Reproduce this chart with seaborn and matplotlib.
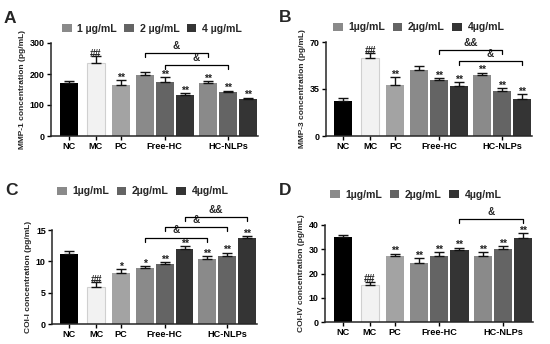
import numpy as np
import pandas as pd
import matplotlib
matplotlib.use("Agg")
import matplotlib.pyplot as plt
from matplotlib.patches import Patch
import seaborn as sns

# ---------------- data ----------------
bars = ["NC", "MC", "PC", "Free-1", "Free-2", "Free-4", "HC-1", "HC-2", "HC-4"]
tick_labels = ["NC", "MC", "PC", "Free-HC", "HC-NLPs"]

mmp1_mean = [171, 236, 165, 197, 174, 131, 170, 141, 120]
mmp1_err = [6, 22, 15, 8, 15, 7, 6, 5, 4]
mmp1_sig = ["", "##", "**", "", "**", "**", "**", "**", "**"]
mmp1_brackets = [(3, 6, 269, "&"), (4, 7, 228, "&")]

mmp3_mean = [26.2, 57.8, 38.1, 49.3, 41.6, 37.1, 45.3, 33.6, 27.7]
mmp3_err = [2.2, 3.7, 5.5, 2.5, 1.7, 2.8, 1.8, 2.0, 3.4]
mmp3_sig = ["", "##", "**", "", "**", "**", "**", "**", "**"]
mmp3_brackets = [(4, 7, 63.8, "&&"), (5, 8, 56.0, "&")]

coi1_mean = [11.1, 5.9, 8.2, 9.0, 9.6, 11.9, 10.3, 10.8, 13.8]
coi1_err = [0.6, 0.8, 0.5, 0.2, 0.3, 0.5, 0.5, 0.6, 0.2]
coi1_sig = ["", "##", "*", "*", "**", "**", "**", "**", "**"]
coi1_brackets = [(3, 6, 13.8, "&"), (4, 7, 15.5, "&"), (5, 8, 17.1, "&&")]

coi4_mean = [35.0, 15.1, 27.3, 24.5, 27.1, 29.5, 27.4, 30.3, 34.6]
coi4_err = [1.0, 1.4, 0.9, 1.8, 1.8, 1.1, 1.4, 1.1, 2.1]
coi4_sig = ["", "##", "**", "**", "**", "**", "**", "**", "**"]
coi4_brackets = [(5, 8, 42.4, "&")]

# ---------------- style ----------------
sns.set_style("ticks")
plt.rcParams["font.family"] = ["Liberation Sans", "DejaVu Sans"]
plt.rcParams["font.weight"] = "bold"
plt.rcParams["axes.labelweight"] = "bold"

colors = {"NC": "#000000", "MC": "#f2f2f2", "PC": "#a3a3a3",
          "Free-1": "#8a8a8a", "Free-2": "#646464", "Free-4": "#343434",
          "HC-1": "#8a8a8a", "HC-2": "#646464", "HC-4": "#343434"}
layout_x = [0, 1.35, 2.6, 3.8, 4.8, 5.8, 6.95, 7.95, 8.95]
tick_x = [layout_x[0], layout_x[1], layout_x[2], layout_x[4], layout_x[7]]

W, H = 550, 344
fig = plt.figure(figsize=(W / 100, H / 100), dpi=100)


def px_axes(left, right, top, bottom):
    return fig.add_axes([left / W, 1 - bottom / H, (right - left) / W, (bottom - top) / H])


panels = [
    dict(box=(51, 258, 43, 136), mean=mmp1_mean, err=mmp1_err, sig=mmp1_sig, br=mmp1_brackets,
         ylim=300, yticks=[0, 100, 200, 300], ylabel="MMP-1 concentration (pg/mL)",
         letter="A", lpos=(4, 23), legpos=(62, 29),
         leg=["1 µg/mL", "2 µg/mL", "4 µg/mL"]),
    dict(box=(326, 532, 42, 136), mean=mmp3_mean, err=mmp3_err, sig=mmp3_sig, br=mmp3_brackets,
         ylim=70, yticks=[0, 35, 70], ylabel="MMP-3 concentration (pg/mL)",
         letter="B", lpos=(279, 22), legpos=(333, 27.5),
         leg=["1µg/mL", "2µg/mL", "4µg/mL"]),
    dict(box=(52, 257, 230, 324), mean=coi1_mean, err=coi1_err, sig=coi1_sig, br=coi1_brackets,
         ylim=15, yticks=[0, 5, 10, 15], ylabel="COI-I concentration (pg/mL)",
         letter="C", lpos=(5, 195), legpos=(57, 191.5),
         leg=["1µg/mL", "2µg/mL", "4µg/mL"]),
    dict(box=(325, 533, 225, 322), mean=coi4_mean, err=coi4_err, sig=coi4_sig, br=coi4_brackets,
         ylim=40, yticks=[0, 10, 20, 30, 40], ylabel="COI-IV concentration (pg/mL)",
         letter="D", lpos=(279, 195), legpos=(330, 195),
         leg=["1µg/mL", "2µg/mL", "4µg/mL"]),
]

for p in panels:
    l, r, t, b = p["box"]
    ax = px_axes(l, r, t, b)
    df = pd.DataFrame({"pos": layout_x, "value": p["mean"], "bar": bars})
    sns.barplot(data=df, x="pos", y="value", hue="bar", palette=colors, native_scale=True,
                dodge=False, width=0.9, errorbar=None, legend=False, saturation=1,
                linewidth=0, ax=ax, zorder=2)
    for patch in ax.patches:
        cx = patch.get_x() + patch.get_width() / 2
        if abs(cx - layout_x[1]) < 0.01:
            patch.set_edgecolor("#d0d0d0")
            patch.set_linewidth(0.8)
    ax.errorbar(layout_x, p["mean"], yerr=[np.zeros(len(bars)), p["err"]], fmt="none",
                ecolor="#111111", elinewidth=1.0, capsize=3.4, capthick=1.0, zorder=3)
    ax.set_xlim(-0.875, 9.45)
    ax.set_ylim(0, p["ylim"])
    ax.set_yticks(p["yticks"])
    ax.set_xticks(tick_x)
    ax.set_xticklabels(tick_labels, fontsize=6.6, fontweight="bold")
    ax.set_yticklabels([str(v) for v in p["yticks"]], fontsize=6.4, fontweight="bold")
    ax.set_xlabel("")
    ax.set_ylabel(p["ylabel"], fontsize=6.0, fontweight="bold", labelpad=3)
    for s in ["top", "right"]:
        ax.spines[s].set_visible(False)
    for s in ["left", "bottom"]:
        ax.spines[s].set_linewidth(1.1)
    ax.tick_params(axis="both", width=1.0, length=3, pad=1.5, colors="black")

    tops = [m + e for m, e in zip(p["mean"], p["err"])]
    for x, y, s in zip(layout_x, tops, p["sig"]):
        if s:
            ax.annotate(s, (x, y), xytext=(0, -1.8), textcoords="offset points",
                        ha="center", va="bottom", fontsize=7.5, fontweight="bold",
                        color="#222222", annotation_clip=False, zorder=4)

    ypx = p["ylim"] / (b - t)
    for i, j, y, lab in p["br"]:
        d = 4 * ypx
        ax.plot([layout_x[i], layout_x[i], layout_x[j], layout_x[j]], [y - d, y, y, y - d],
                color="black", lw=0.9, clip_on=False, zorder=4)
        ax.annotate(lab, ((layout_x[i] + layout_x[j]) / 2, y), xytext=(0, 1.5),
                    textcoords="offset points", ha="center", va="bottom", fontsize=7.2,
                    fontweight="bold", annotation_clip=False)

    fig.text(p["lpos"][0] / W, 1 - p["lpos"][1] / H, p["letter"], fontsize=12.5,
             fontweight="bold", ha="left", va="baseline")
    handles = [Patch(facecolor=colors[k], edgecolor="none") for k in ["Free-1", "Free-2", "Free-4"]]
    fig.legend(handles, p["leg"], loc="center left",
               bbox_to_anchor=(p["legpos"][0] / W, 1 - p["legpos"][1] / H),
               ncol=3, frameon=False, prop={"weight": "bold", "size": 7.6},
               handlelength=0.9, handleheight=0.8, handletextpad=0.55, columnspacing=0.7,
               borderpad=0, borderaxespad=0)

fig.savefig("out.png", dpi=100)
